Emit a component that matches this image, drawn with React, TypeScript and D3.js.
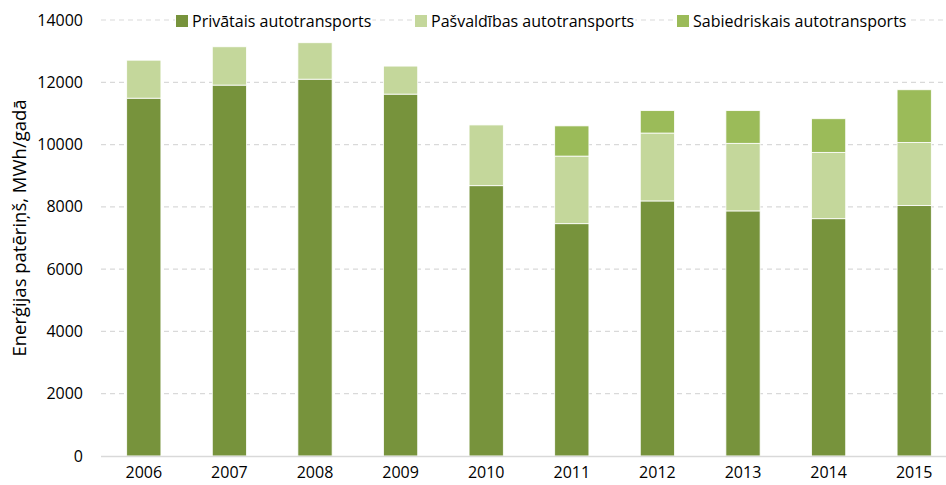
import React, { useEffect, useRef } from 'react'
import * as d3 from 'd3'

const years = ['2006', '2007', '2008', '2009', '2010', '2011', '2012', '2013', '2014', '2015']
const privatais = [11490, 11910, 12100, 11620, 8680, 7460, 8190, 7870, 7620, 8040]
const pasvaldibas = [1220, 1230, 1170, 900, 1950, 2170, 2180, 2170, 2130, 2030]
const sabiedriskais = [0, 0, 0, 0, 0, 970, 720, 1050, 1080, 1690]
const seriesNames = ['Privātais autotransports', 'Pašvaldības autotransports', 'Sabiedriskais autotransports']
const seriesColors = ['#77933C', '#C4D79B', '#9BBB59']
const yTicks = [0, 2000, 4000, 6000, 8000, 10000, 12000, 14000]

const W = 946
const H = 485
const margin = { top: 20, left: 101, bottom: 29 }
const FONT = "'Open Sans', 'Noto Sans', sans-serif"

export default function App () {
  const ref = useRef<SVGSVGElement>(null)

  useEffect(() => {
    const svg = d3.select(ref.current)
    svg.selectAll('*').remove()

    const rows = years.map((y, i) => ({
      year: y,
      p0: privatais[i],
      p1: pasvaldibas[i],
      p2: sabiedriskais[i]
    }))
    const stack = d3.stack<any>().keys(['p0', 'p1', 'p2'])
    const stacked = stack(rows)

    const x = d3.scaleBand()
      .domain(years)
      .range([margin.left, 957])
      .paddingInner(0.6)
      .paddingOuter(0.3)

    const y = d3.scaleLinear()
      .domain([0, 14000])
      .range([H - margin.bottom, margin.top])

    // gridlines
    svg.append('g')
      .selectAll('line')
      .data(yTicks.filter(t => t > 0))
      .enter()
      .append('line')
        .attr('x1', margin.left)
        .attr('x2', W)
        .attr('y1', d => y(d))
        .attr('y2', d => y(d))
        .attr('stroke', '#D9D9D9')
        .attr('stroke-width', 1.2)
        .attr('stroke-dasharray', '5,4')

    // y tick labels
    svg.append('g')
      .selectAll('text')
      .data(yTicks)
      .enter()
      .append('text')
        .attr('x', 83)
        .attr('y', d => y(d))
        .attr('dy', '0.35em')
        .attr('text-anchor', 'end')
        .attr('font-family', FONT)
        .attr('font-size', 16)
        .attr('fill', '#000')
        .text(d => d)

    // bars
    svg.append('g')
      .selectAll('g')
      .data(stacked)
      .enter()
      .append('g')
        .attr('fill', (d, i) => seriesColors[i])
      .selectAll('rect')
      .data(d => d.filter(s => s[1] - s[0] > 0))
      .enter()
      .append('rect')
        .attr('x', d => x(d.data.year) as number)
        .attr('width', x.bandwidth())
        .attr('y', d => y(d[1]))
        .attr('height', d => y(d[0]) - y(d[1]))
        .attr('stroke', '#fff')
        .attr('stroke-width', 0.8)

    // baseline
    svg.append('line')
      .attr('x1', margin.left)
      .attr('x2', W)
      .attr('y1', y(0) + 0.5)
      .attr('y2', y(0) + 0.5)
      .attr('stroke', '#D9D9D9')
      .attr('stroke-width', 1.5)

    // x labels
    svg.append('g')
      .selectAll('text')
      .data(years)
      .enter()
      .append('text')
        .attr('x', d => (x(d) as number) + x.bandwidth() / 2)
        .attr('y', 478)
        .attr('text-anchor', 'middle')
        .attr('font-family', FONT)
        .attr('font-size', 16)
        .attr('fill', '#000')
        .text(d => d)

    // y title
    svg.append('text')
      .attr('transform', `translate(26, 228) rotate(-90)`)
      .attr('text-anchor', 'middle')
      .attr('font-family', FONT)
      .attr('font-size', 18.5)
      .attr('fill', '#000')
      .text('Enerģijas patēriņš, MWh/gadā')

    // legend
    const legendX = [176, 415, 677]
    const leg = svg.append('g')
    seriesNames.forEach((name, i) => {
      const g = leg.append('g').attr('transform', `translate(${legendX[i]}, 15)`)
      const t = g.append('text')
        .attr('x', 16)
        .attr('y', 6)
        .attr('dy', '0.35em')
        .attr('font-family', FONT)
        .attr('font-size', 16)
        .attr('fill', '#000')
        .text(name)
      const bb = (t.node() as SVGTextElement).getBBox()
      g.insert('rect', 'text')
        .attr('x', -1)
        .attr('y', -4)
        .attr('width', bb.x + bb.width + 2)
        .attr('height', 20)
        .attr('fill', '#fff')
      g.insert('rect', 'text')
        .attr('x', 0)
        .attr('y', 0)
        .attr('width', 12)
        .attr('height', 12)
        .attr('fill', seriesColors[i])
    })
  }, [])

  return (
    <div>
      <svg ref={ref} width={W} height={H}
        style={{ position: 'absolute', left: 0, top: 0, background: '#fff' }} />
    </div>
  )
}
